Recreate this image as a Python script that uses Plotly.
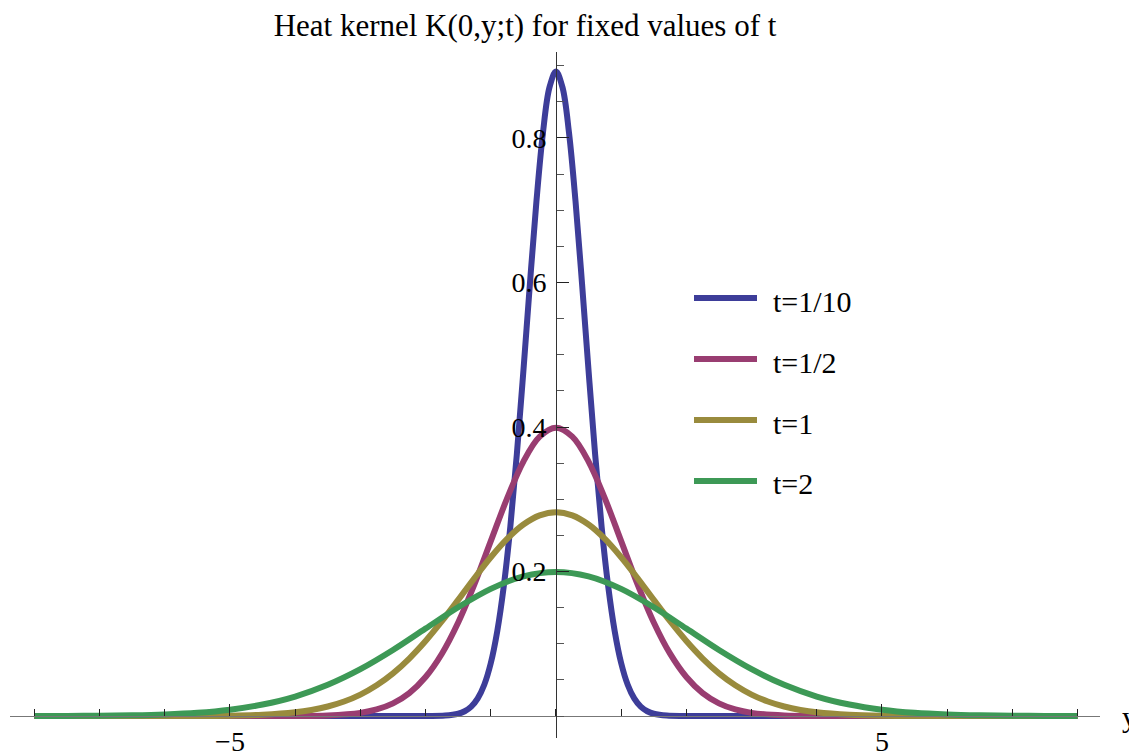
import plotly.graph_objects as go

# ---- data ----
series_names = ["t=1/10", "t=1/2", "t=1", "t=2"]
series_colors = ["#3D3D99", "#993D71", "#998B3D", "#3D9956"]

y_blue = [-8, -4, -2, -1.7, -1.5, -1.4, -1.3, -1.2, -1.1, -1.0, -0.9, -0.8, -0.7, -0.6, -0.5, -0.4, -0.3, -0.2, -0.1,
          0, 0.1, 0.2, 0.3, 0.4, 0.5, 0.6, 0.7, 0.8, 0.9, 1.0, 1.1, 1.2, 1.3, 1.4, 1.5, 1.7, 2, 4, 8]
k_blue = [0.0, 0.0, 0.0, 0.0006, 0.0032, 0.0066, 0.0130, 0.0244, 0.0433, 0.0732, 0.1178, 0.1801, 0.2621, 0.3627, 0.4775, 0.598, 0.712, 0.807, 0.870,
          0.892, 0.870, 0.807, 0.712, 0.598, 0.4775, 0.3627, 0.2621, 0.1801, 0.1178, 0.0732, 0.0433, 0.0244, 0.0130, 0.0066, 0.0032, 0.0006, 0.0, 0.0, 0.0]

y_mag = [-8, -6, -5, -4, -3.5, -3, -2.75, -2.5, -2.25, -2, -1.75, -1.5, -1.25, -1, -0.75, -0.5, -0.25,
         0, 0.25, 0.5, 0.75, 1, 1.25, 1.5, 1.75, 2, 2.25, 2.5, 2.75, 3, 3.5, 4, 5, 6, 8]
k_mag = [0.0, 0.0, 0.0, 0.0001, 0.0009, 0.0044, 0.0091, 0.0175, 0.0317, 0.0540, 0.0863, 0.1295, 0.1826, 0.2420, 0.3011, 0.3521, 0.3867,
         0.399, 0.3867, 0.3521, 0.3011, 0.2420, 0.1826, 0.1295, 0.0863, 0.0540, 0.0317, 0.0175, 0.0091, 0.0044, 0.0009, 0.0001, 0.0, 0.0, 0.0]

y_oli = [-8, -7, -6, -5, -4.5, -4, -3.75, -3.5, -3.25, -3, -2.75, -2.5, -2.25, -2, -1.75, -1.5, -1.25, -1, -0.75, -0.5, -0.25,
         0, 0.25, 0.5, 0.75, 1, 1.25, 1.5, 1.75, 2, 2.25, 2.5, 2.75, 3, 3.25, 3.5, 3.75, 4, 4.5, 5, 6, 7, 8]
k_oli = [0.0, 0.0, 0.0, 0.0005, 0.0018, 0.0052, 0.0084, 0.0132, 0.0201, 0.0297, 0.0426, 0.0591, 0.0796, 0.1038, 0.1312, 0.1607, 0.1909, 0.2197, 0.2451, 0.2650, 0.2777,
         0.2821, 0.2777, 0.2650, 0.2451, 0.2197, 0.1909, 0.1607, 0.1312, 0.1038, 0.0796, 0.0591, 0.0426, 0.0297, 0.0201, 0.0132, 0.0084, 0.0052, 0.0018, 0.0005, 0.0, 0.0, 0.0]

y_grn = [-8, -7.5, -7, -6.5, -6, -5.5, -5, -4.5, -4, -3.5, -3, -2.5, -2, -1.5, -1, -0.5,
         0, 0.5, 1, 1.5, 2, 2.5, 3, 3.5, 4, 4.5, 5, 5.5, 6, 6.5, 7, 7.5, 8]
k_grn = [0.0001, 0.0002, 0.0004, 0.0010, 0.0022, 0.0045, 0.0088, 0.0159, 0.0270, 0.0432, 0.0648, 0.0913, 0.1210, 0.1506, 0.1760, 0.1934,
         0.1995, 0.1934, 0.1760, 0.1506, 0.1210, 0.0913, 0.0648, 0.0432, 0.0270, 0.0159, 0.0088, 0.0045, 0.0022, 0.0010, 0.0004, 0.0002, 0.0001]

x_major_ticks = [-5, 5]
x_major_labels = ["\u22125", "5"]
y_major_ticks = [0.2, 0.4, 0.6, 0.8]
y_major_labels = ["0.2", "0.4", "0.6", "0.8"]

title_text = "Heat kernel K(0,y;t) for fixed values of t"
x_label = "y"

# ---- figure ----
FONT = "Liberation Serif, Times New Roman, serif"
FS_TICK = 28
FS_LEG = 30
FS_TITLE = 31
OFF = 8  # page body margin offset

W, H = 1137 - OFF, 754 - OFF
plot_left, plot_right = 10 - OFF, 1100 - OFF
plot_top, plot_bottom = 52 - OFF, 738 - OFF
plot_w = plot_right - plot_left
plot_h = plot_bottom - plot_top

xs = [y_blue, y_mag, y_oli, y_grn]
ks = [k_blue, k_mag, k_oli, k_grn]

fig = go.Figure()
for name, color, xv, kv in zip(series_names, series_colors, xs, ks):
    fig.add_trace(go.Scatter(x=xv, y=kv, mode="lines", name=name,
                             line=dict(color=color, width=6, shape="spline", smoothing=1),
                             showlegend=False, hoverinfo="skip"))

xr = [-8.374, 8.344]
yr = [-0.0304, 0.919]
x_axis_pos = (0 - yr[0]) / (yr[1] - yr[0])
y_axis_pos = (0 - xr[0]) / (xr[1] - xr[0])

def px_x(ax):
    return (ax - OFF - plot_left) / plot_w

def px_y(ay):
    return (plot_bottom - (ay - OFF)) / plot_h

fig.update_layout(
    width=W, height=H,
    margin=dict(l=plot_left, r=W - plot_right, t=plot_top, b=H - plot_bottom, autoexpand=False),
    paper_bgcolor="white", plot_bgcolor="white",
    font=dict(family=FONT, size=FS_TICK, color="black"),
    title=dict(text=title_text, x=px_x(525), xref="paper", xanchor="center",
               y=1 - (25 - OFF) / H, yref="container", yanchor="middle",
               font=dict(family=FONT, size=FS_TITLE, color="black")),
    xaxis=dict(range=xr, anchor="free", position=x_axis_pos, automargin=False,
               showgrid=False, zeroline=False, showline=True, linecolor="#777", linewidth=1,
               tickmode="array", tickvals=x_major_ticks, ticktext=x_major_labels,
               ticks="inside", ticklen=12, tickcolor="#222", tickwidth=1,
               ticklabelstandoff=0,
               minor=dict(tickmode="linear", tick0=0, dtick=1, ticks="inside",
                          ticklen=7, tickcolor="#222", tickwidth=1, showgrid=False),
               tickfont=dict(family=FONT, size=FS_TICK)),
    yaxis=dict(range=yr, anchor="free", position=y_axis_pos, automargin=False,
               showgrid=False, zeroline=False, showline=True, linecolor="#333", linewidth=1,
               tickmode="array", tickvals=y_major_ticks, ticktext=y_major_labels,
               ticks="inside", ticklen=12, tickcolor="#222", tickwidth=1,
               ticklabelstandoff=4,
               minor=dict(tickmode="linear", tick0=0, dtick=0.05, ticks="inside",
                          ticklen=7, tickcolor="#555", tickwidth=1, showgrid=False),
               tickfont=dict(family=FONT, size=FS_TICK)),
)

# custom legend (long line samples like the reference)
leg_rows = [298, 359, 420, 481]
for name, color, py in zip(series_names, series_colors, leg_rows):
    yp = px_y(py)
    fig.add_shape(type="line", xref="paper", yref="paper",
                  x0=px_x(694), x1=px_x(757), y0=yp, y1=yp,
                  line=dict(color=color, width=6))
    fig.add_annotation(text=name, xref="paper", yref="paper",
                       x=px_x(771), y=px_y(py + 3), xanchor="left", yanchor="middle",
                       showarrow=False, font=dict(family=FONT, size=FS_LEG, color="black"))

fig.add_annotation(text=x_label, xref="paper", yref="y", x=px_x(1129), y=0,
                   xanchor="center", yanchor="middle", showarrow=False,
                   font=dict(family=FONT, size=FS_LEG, color="black"))

fig.write_html("out.html")
